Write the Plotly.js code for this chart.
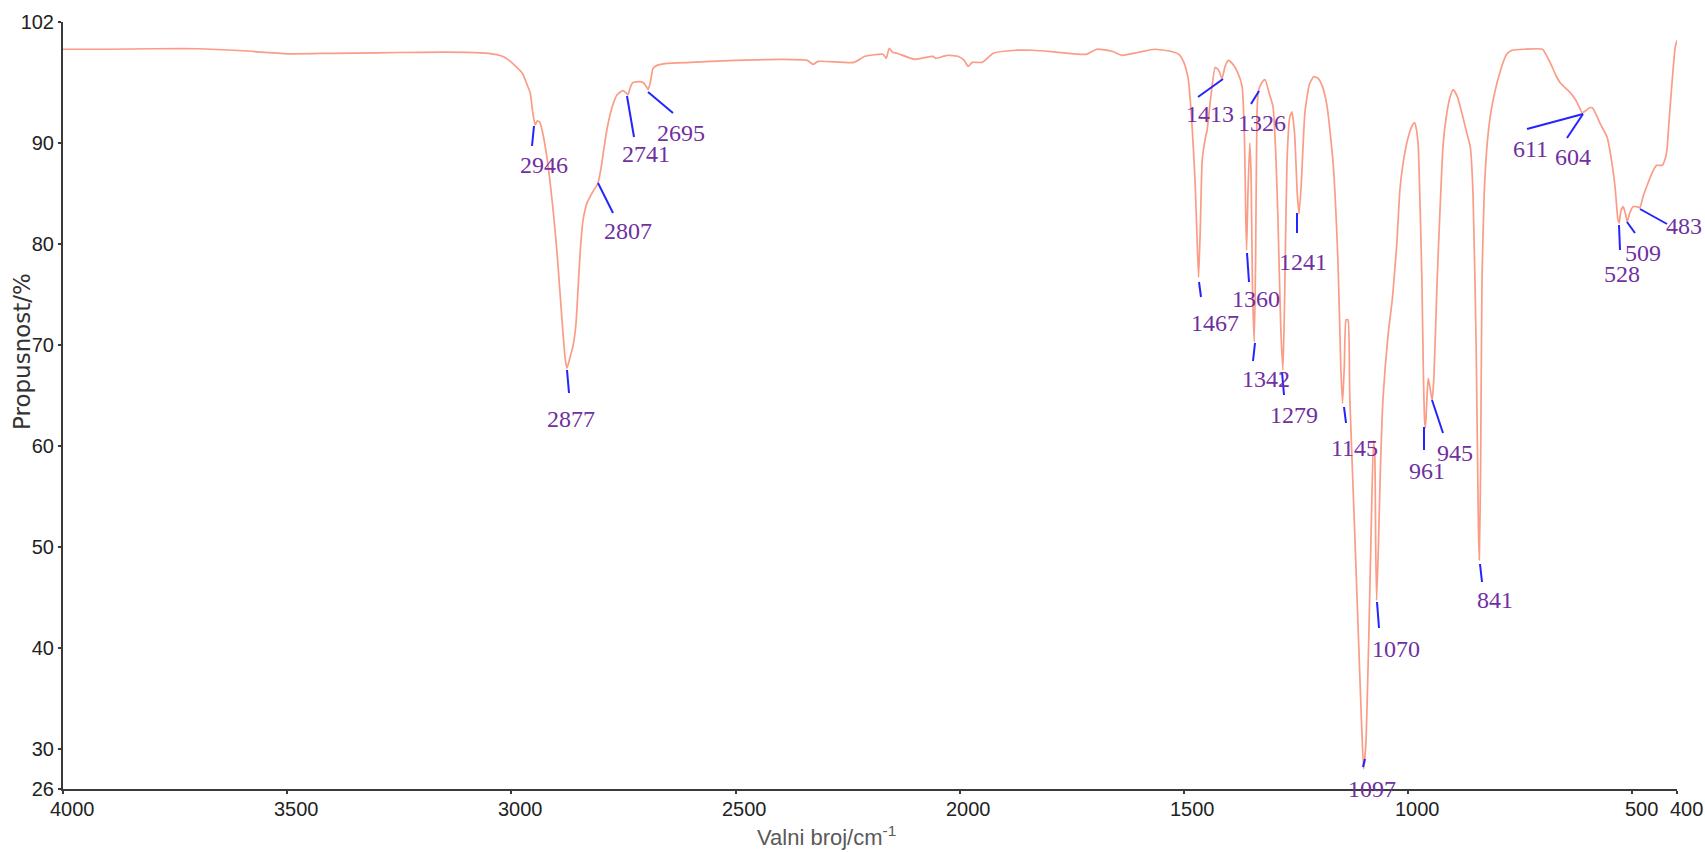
<!DOCTYPE html>
<html>
<head>
<meta charset="utf-8">
<script src="https://cdn.plot.ly/plotly-3.0.1.min.js"></script>
<style>
html,body{margin:0;padding:0;background:#fff;}
#chart{width:1705px;height:852px;}
</style>
</head>
<body>
<div id="chart"></div>
<script>
// ---- data ----
const wavenumber = [
4000,3900,3800,3700,3600,3500,3400,3300,3200,3100,3050,3020,3005,2990,2975,2965,2958,2952,2947,2942,
2937,2930,2922,2914,2906,2898,2887,2880,2876,2870,2862,2856,2851,2846,2840,2830,2818,2807,2800,2795,
2787,2775,2764,2751,2745,2740,2734,2729,2715,2706,2699,2695,2690,2684,2675,2653,2600,2555,2500,2394,
2340,2327,2316,2236,2211,2171,2164,2157,2150,2140,2100,2060,2053,2028,2004,1990,1981,1972,1950,1925,
1876,1836,1780,1718,1694,1660,1638,1600,1566,1530,1511,1500,1490,1482,1475,1470,1467,1463,1459,1452,
1448,1440,1430,1422,1415,1408,1401,1392,1380,1370,1365,1362,1360,1357,1353,1350,1347,1343,1340,1337,
1334,1326,1319,1310,1301,1295,1290,1284,1279,1275,1270,1264,1259,1253,1247,1243,1238,1230,1220,1210,
1200,1190,1180,1167,1156,1150,1146,1142,1138,1134,1130,1120,1110,1104,1099,1094,1088,1082,1077,1074,
1072,1070,1066,1062,1056,1044,1035,1025,1018,1011,1000,990,985,980,977,972,969,966,963,961,
958,955,951,946,942,935,928,922,915,906,899,890,880,870,861,855,848,843,841,838,
835,830,824,817,810,795,780,768,740,700,690,680,670,661,650,638,625,611,604,595,
589,580,570,556,545,538,532,529,525,520,515,511,506,498,490,483,475,465,453,445,
433,426,422,418,412,404,400
];
const transmittance = [
99.3,99.3,99.35,99.35,99.15,98.85,98.9,98.95,99.0,99.0,98.9,98.6,98.2,97.6,96.9,95.8,95.0,93.0,91.8,92.2,
92.1,91.0,89.0,86.3,83.0,79.1,72.5,68.7,67.7,68.6,70.0,72.0,75.7,79.5,82.4,84.2,85.2,86.0,87.5,89.0,
91.3,93.6,94.8,95.2,95.0,94.8,95.6,96.0,96.1,96.0,95.6,95.3,96.0,97.4,97.7,97.9,98.0,98.1,98.2,98.3,
98.2,97.8,98.1,98.0,98.6,98.8,98.4,99.4,99.0,98.9,98.3,98.6,98.4,98.7,98.6,98.2,97.6,98.0,98.0,98.9,
99.2,99.2,99.0,98.8,99.3,99.1,98.7,99.0,99.3,99.1,98.8,98.0,96.3,92.0,86.3,80.0,76.7,82.0,88.3,90.5,
91.3,94.5,97.5,97.2,96.4,97.6,98.2,97.9,97.0,95.6,91.0,83.0,79.4,85.0,90.0,87.0,76.0,70.3,78.0,92.6,
95.1,96.0,96.3,95.0,93.6,89.0,82.4,72.0,67.5,75.0,88.0,92.5,93.1,91.0,85.0,83.0,86.0,93.0,95.8,96.6,
96.4,95.5,93.5,88.0,78.0,68.0,64.2,68.0,72.5,72.5,65.0,52.8,40.4,33.0,28.0,30.5,40.0,52.0,60.5,59.0,
50.0,44.7,50.0,57.0,64.5,71.2,74.5,80.0,85.4,88.0,90.5,91.8,92.0,91.0,89.6,82.0,76.4,68.0,62.5,61.8,
64.5,66.7,65.8,64.5,67.0,76.4,84.0,89.6,92.5,94.6,95.3,94.6,93.0,91.2,89.6,85.0,70.0,52.0,48.7,58.0,
76.4,85.0,89.6,92.5,94.3,97.0,98.8,99.2,99.3,99.3,98.6,97.7,96.7,96.0,95.5,95.0,94.2,93.0,93.2,93.5,
93.5,92.8,91.8,90.6,88.0,85.6,82.5,82.1,83.3,83.7,83.0,82.2,83.0,83.7,83.7,83.6,84.8,86.0,87.3,87.8,
87.8,88.5,89.5,92.0,95.5,99.5,100.2
];
const xTicks = [4000,3500,3000,2500,2000,1500,1000,500,400];
const yTicks = [102,90,80,70,60,50,40,30,26];
const peakLabels = ["2946","2877","2807","2741","2695","1413","1326","1467","1360","1342","1279","1241",
                    "1145","1097","1070","961","945","841","611","604","528","509","483"];

// ---- label layout (pixel positions in the picture: leader line start/end, text centre) ----
const labelLayout = [
 [534,126,532,146,544,163],[567,370,569,393,571,417],[598,183,613,213,628,229],[627,96,634,137,646,152],
 [648,92,673,113,681,131],[1198,97,1223,79,1210,112],[1251,104,1259,91,1262,121],[1199,282,1201,297,1215,321],
 [1247,253,1249,282,1256,297],[1255,343,1253,361,1266,377],[1282,372,1284,395,1294,413],[1297,213,1297,233,1303,260],
 [1344,407,1346,423,1354,446],[1365,759,1363,767,1372,787],[1377,602,1379,628,1396,647],[1424,427,1424,450,1427,469],
 [1432,400,1443,433,1455,451],[1480,564,1482,582,1495,598],[1527,129,1583,114,1530,147],[1567,138,1583,114,1573,155],
 [1619,225,1620,250,1622,272],[1627,222,1635,233,1643,251],[1640,209,1667,224,1684,224]
];
const tickLabelShiftPx = 9;   // reference prints x tick labels slightly right of their ticks
const tickLabelCenterY = 809; // pixel row of x tick label centres

const W = 1705, H = 852;
const M = {l:63, r:28, t:22, b:63};
const xRange = [4000, 400], yRange = [26, 102];
const pw = W - M.l - M.r, ph = H - M.t - M.b;
function px2x(px){ return xRange[0] + (px - M.l) / pw * (xRange[1] - xRange[0]); }
function px2y(py){ return yRange[1] - (py - M.t) / ph * (yRange[1] - yRange[0]); }
function x2px(v){ return M.l + (v - xRange[0]) / (xRange[1] - xRange[0]) * pw; }
function px2paperX(px){ return (px - M.l) / pw; }
function px2paperY(py){ return (H - M.b - py) / ph; }

const tickFont = {family:'Liberation Sans, Arial, sans-serif', size:20, color:'#222'};
const shapes = [], annotations = [];
peakLabels.forEach((t, i) => {
  const L = labelLayout[i];
  shapes.push({type:'line', xref:'x', yref:'y',
    x0:px2x(L[0]), y0:px2y(L[1]), x1:px2x(L[2]), y1:px2y(L[3]),
    line:{color:'#2424FF', width:2}});
  annotations.push({xref:'paper', yref:'paper', x:px2paperX(L[4]), y:px2paperY(L[5]+2), text:t, showarrow:false,
    xanchor:'center', yanchor:'middle',
    font:{family:'Liberation Serif, Times New Roman, serif', size:24, color:'#7030A0'}});
});
// x tick labels (offset right of the ticks, as in the reference)
xTicks.forEach(v => {
  annotations.push({xref:'paper', yref:'paper', x:px2paperX(x2px(v) + tickLabelShiftPx),
    y:px2paperY(tickLabelCenterY), text:String(v), showarrow:false, xanchor:'center', yanchor:'middle',
    font:tickFont});
});
annotations.push({xref:'paper', yref:'paper', x:px2paperX(826), y:px2paperY(836),
  text:'Valni broj/cm<sup>-1</sup>', showarrow:false, xanchor:'center', yanchor:'middle',
  font:{family:'Liberation Sans, Arial, sans-serif', size:22, color:'#595959'}});
annotations.push({xref:'paper', yref:'paper', x:px2paperX(22), y:px2paperY(352),
  text:'Propusnost/%', showarrow:false, textangle:-90, xanchor:'center', yanchor:'middle',
  font:{family:'DejaVu Sans, sans-serif', size:23, color:'#333333'}});

const trace = {
  x: wavenumber, y: transmittance, type:'scatter', mode:'lines',
  line:{color:'#FA9C86', width:1.7, shape:'spline', smoothing:0.5},
  hoverinfo:'x+y'
};

const layout = {
  width:W, height:H, margin:M, paper_bgcolor:'#fff', plot_bgcolor:'#fff',
  showlegend:false,
  xaxis:{range:xRange, tickvals:xTicks, showticklabels:false, showgrid:false, zeroline:false,
    showline:true, linecolor:'#3a3a3a', linewidth:2, ticks:'outside', ticklen:3, tickwidth:2, tickcolor:'#3a3a3a'},
  yaxis:{range:yRange, tickvals:yTicks, ticktext:yTicks.map(String), showgrid:false, zeroline:false,
    showline:true, linecolor:'#3a3a3a', linewidth:2, ticks:'outside', ticklen:3, tickwidth:2, tickcolor:'#3a3a3a',
    tickfont:tickFont},
  shapes:shapes, annotations:annotations
};

Plotly.newPlot('chart', [trace], layout, {displayModeBar:false, staticPlot:true});
</script>
</body>
</html>
